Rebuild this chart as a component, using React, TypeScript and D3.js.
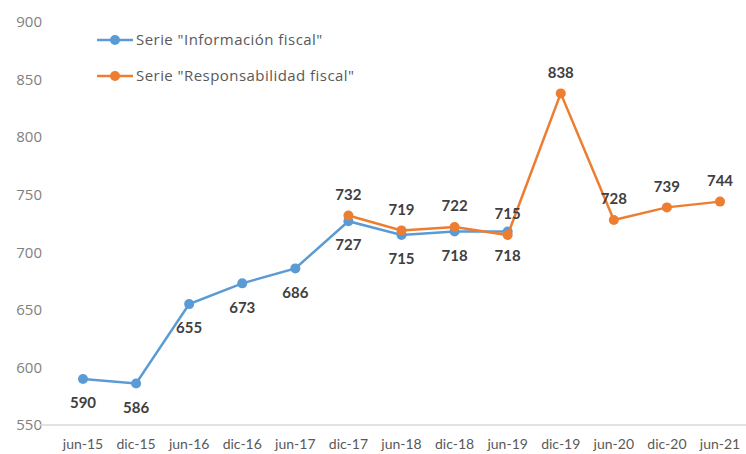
import React from "react";
import * as d3 from "d3";

const categories = ["jun-15","dic-15","jun-16","dic-16","jun-17","dic-17","jun-18","dic-18","jun-19","dic-19","jun-20","dic-20","jun-21"];
const infoValues: (number|null)[] = [590,586,655,673,686,727,715,718,718,null,null,null,null];
const respValues: (number|null)[] = [null,null,null,null,null,732,719,722,715,838,728,739,744];
const yTicks = [550,600,650,700,750,800,850,900];
const seriesNames = ['Serie "Información fiscal"', 'Serie "Responsabilidad fiscal"'];

const BLUE = "#5B9BD5";
const ORANGE = "#ED7D31";
const FONT = "Lato, 'Open Sans', sans-serif";
const FONT2 = "'Open Sans', Lato, sans-serif";

export default function App() {
  const W = 746, H = 454;
  const x = d3.scalePoint<string>().domain(categories).range([83, 720]);
  const y = d3.scaleLinear().domain([550, 900]).range([425, 22]);
  const line = d3.line<[string, number|null]>()
    .defined(d => d[1] != null)
    .x(d => x(d[0])!)
    .y(d => y(d[1] as number));
  const infoPts = categories.map((c, i) => [c, infoValues[i]] as [string, number|null]);
  const respPts = categories.map((c, i) => [c, respValues[i]] as [string, number|null]);

  return (
    <svg width={W} height={H} style={{ position: "absolute", left: 0, top: 0, background: "#fff" }}>
      <rect width={W} height={H} fill="#fff" />
      {yTicks.map(t => (
        <text key={t} x={42} y={y(t)} dy="0.35em" textAnchor="end" fontSize={15} fill="#7f7f7f" fontFamily={FONT2}>{t}</text>
      ))}
      <line x1={40} x2={746} y1={y(550)} y2={y(550)} stroke="#d9d9d9" strokeWidth={1.5} />
      {categories.map(c => (
        <text key={c} x={x(c)} y={444} dy="0.35em" textAnchor="middle" fontSize={14} fill="#595959" fontFamily={FONT}>{c}</text>
      ))}
      <path d={line(infoPts) || ""} fill="none" stroke={BLUE} strokeWidth={2.5} />
      {infoPts.filter(d => d[1] != null).map(d => (
        <circle key={"b" + d[0]} cx={x(d[0])} cy={y(d[1] as number)} r={5} fill={BLUE} />
      ))}
      <path d={line(respPts) || ""} fill="none" stroke={ORANGE} strokeWidth={2.5} />
      {respPts.filter(d => d[1] != null).map(d => (
        <circle key={"o" + d[0]} cx={x(d[0])} cy={y(d[1] as number)} r={5} fill={ORANGE} />
      ))}
      {infoPts.filter(d => d[1] != null).map(d => (
        <text key={"bl" + d[0]} x={x(d[0])} y={y(d[1] as number) + 24} dy="0.35em" textAnchor="middle" fontSize={15} fontWeight="bold" fill="#404040" fontFamily={FONT}>{d[1]}</text>
      ))}
      {respPts.filter(d => d[1] != null).map(d => (
        <text key={"ol" + d[0]} x={x(d[0])} y={y(d[1] as number) - 21} dy="0.35em" textAnchor="middle" fontSize={15} fontWeight="bold" fill="#404040" fontFamily={FONT}>{d[1]}</text>
      ))}
      {seriesNames.map((n, i) => {
        const ly = 40 + i * 36;
        const col = i === 0 ? BLUE : ORANGE;
        return (
          <g key={n}>
            <line x1={97} x2={133} y1={ly} y2={ly} stroke={col} strokeWidth={2.5} />
            <circle cx={115} cy={ly} r={5} fill={col} />
            <text x={136} y={ly} dy="0.35em" fontSize={15} letterSpacing={0.45} fill="#595959" fontFamily={FONT2}>{n}</text>
          </g>
        );
      })}
    </svg>
  );
}
